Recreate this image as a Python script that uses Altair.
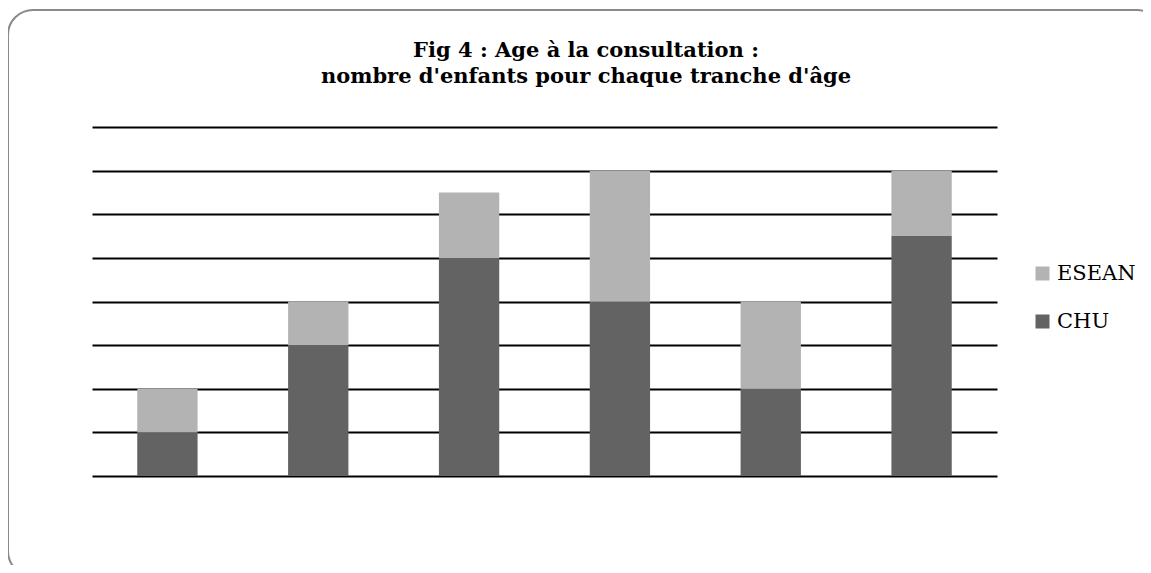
import altair as alt
import pandas as pd

categories = ["T1", "T2", "T3", "T4", "T5", "T6"]
chu = [2, 6, 10, 8, 4, 11]
esean = [2, 2, 3, 6, 4, 3]
series = ["ESEAN", "CHU"]
colors = ["#b3b3b3", "#636363"]
title_lines = ["Fig 4 : Age à la consultation :", "nombre d'enfants pour chaque tranche d'âge"]

rows = []
for c, a, b in zip(categories, chu, esean):
    rows.append({"cat": c, "serie": "CHU", "val": a, "ord": 0})
    rows.append({"cat": c, "serie": "ESEAN", "val": b, "ord": 1})
df = pd.DataFrame(rows)

bars = alt.Chart(df).mark_bar().encode(
    x=alt.X("cat:N", axis=None, sort=categories,
            scale=alt.Scale(paddingInner=0.6, paddingOuter=0.3)),
    y=alt.Y("sum(val):Q", stack="zero",
            scale=alt.Scale(domain=[0, 16], nice=False),
            axis=alt.Axis(values=list(range(0, 17, 2)), labels=False, ticks=False,
                          domain=False, grid=True, gridColor="#000000", gridWidth=2,
                          title=None)),
    color=alt.Color("serie:N", scale=alt.Scale(domain=series, range=colors),
                    legend=alt.Legend(title=None, orient="none", legendX=940, legendY=136,
                                      symbolType="square", symbolSize=196,
                                      symbolStrokeWidth=0, labelFont="DejaVu Serif",
                                      labelFontSize=21, labelColor="#000000",
                                      labelOffset=4, rowPadding=26)),
    order=alt.Order("ord:Q"),
)

border = alt.Chart(alt.Data(values=[{}])).mark_rect(
    fill=None, stroke="#8a8a8a", strokeWidth=2, cornerRadius=25
).encode(
    x=alt.value(-84), x2=alt.value(1070), y=alt.value(-117), y2=alt.value(449)
)

title_layers = []
for line, yb in zip(title_lines, [-70, -44]):
    title_layers.append(
        alt.Chart(alt.Data(values=[{}])).mark_text(
            text=line, font="DejaVu Serif", fontSize=21, fontWeight="bold",
            color="#000000", align="center", baseline="alphabetic",
        ).encode(x=alt.value(494), y=alt.value(yb))
    )

chart = alt.layer(bars, border, *title_layers).properties(
    width=905, height=349, background="#ffffff",
    padding={"left": 84, "top": 119, "right": 146, "bottom": 89},
    autosize=alt.AutoSizeParams(type="none"),
).configure_view(stroke=None)

chart.save("out.html", embed_options={"renderer": "svg", "actions": False})
